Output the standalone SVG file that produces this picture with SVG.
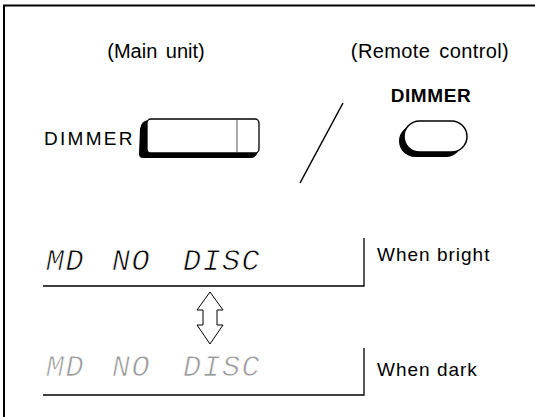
<svg xmlns="http://www.w3.org/2000/svg" width="535" height="417" viewBox="0 0 535 417">
<style>
.lbl{font-family:"Liberation Sans",Arial,sans-serif;fill:#000}
.seg{font-family:"Liberation Mono","DejaVu Sans Mono",monospace;font-style:italic;font-size:30px;letter-spacing:1.5px;stroke:#fff;stroke-width:0.75px}
.ln{stroke:#000;stroke-width:1.3;fill:none}
</style>
<rect width="535" height="417" fill="#fff"/>
<g id="frame"><path d="M4,417 V5.5 H535" fill="none" stroke="#000" stroke-width="2"/></g>
<g id="main-unit">
<text class="lbl" x="156" y="58" font-size="20" text-anchor="middle" word-spacing="3">(Main unit)</text>
<text class="lbl" x="44" y="145" font-size="19" letter-spacing="2.3">DIMMER</text>
<path d="M148,120 Q141,121 140,129 L139,154 Q139,158 143,158 L251,158 Q256,158 258,152 L148,152 Z" fill="#000"/>
<rect x="147" y="119" width="112" height="34" rx="4" fill="#fff" stroke="#000" stroke-width="1.3"/>
<line x1="237" y1="119.5" x2="237" y2="152.5" stroke="#555" stroke-width="1"/>
</g>
<g id="remote">
<text class="lbl" x="430" y="58" font-size="20" text-anchor="middle" letter-spacing="0.4" word-spacing="3">(Remote control)</text>
<text class="lbl" x="431" y="102" font-size="19" font-weight="bold" text-anchor="middle" letter-spacing="0.6">DIMMER</text>
<rect x="399" y="125" width="63" height="32" rx="16" fill="#000"/>
<rect x="404" y="121" width="63" height="31" rx="15.5" fill="#fff" stroke="#000" stroke-width="1.5"/>
</g>
<g id="slash"><line x1="343" y1="103" x2="300" y2="183" stroke="#000" stroke-width="1.5"/></g>
<g id="bright">
<text class="seg" y="270" fill="#000"><tspan x="46">MD</tspan><tspan x="112">NO</tspan><tspan x="183">DISC</tspan></text>
<path class="ln" d="M43,286 H364 V238"/>
<text class="lbl" x="377" y="261" font-size="19" letter-spacing="1">When bright</text>
</g>
<g id="dark">
<text class="seg" y="376" fill="#999"><tspan x="46">MD</tspan><tspan x="112">NO</tspan><tspan x="183">DISC</tspan></text>
<path class="ln" d="M43,395 H364 V348" stroke="#555"/>
<text class="lbl" x="377" y="376" font-size="19" letter-spacing="1">When dark</text>
</g>
<g id="connectors">
<path d="M210,292 L223,310 L217,310 L217,325 L223,325 L210,344 L197,325 L203,325 L203,310 L197,310 Z" fill="#fff" stroke="#000" stroke-width="1"/>
</g>
</svg>
